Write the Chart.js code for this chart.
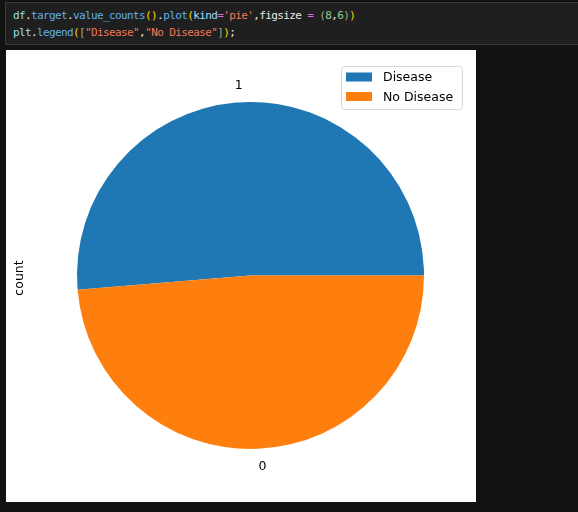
<!DOCTYPE html>
<html>
<head>
<meta charset="utf-8">
<script src="https://cdn.jsdelivr.net/npm/chart.js@4"></script>
<style>
  html, body { margin: 0; padding: 0; background: #121212; width: 578px; height: 512px; overflow: hidden; }
  #cell { position: absolute; left: 5px; top: 2px; width: 640px; height: 43px; background: #1f1f1f; border: 1px solid #3a3a3a; box-sizing: border-box; }
  .code { position: absolute; left: 7px; font-family: "DejaVu Sans Mono", "Liberation Mono", monospace; font-size: 11px; letter-spacing: -0.62px; white-space: pre; color: #d4d4d4; }
  .v { color: #9cdcfe; } .f { color: #5fb0f0; } .p { color: #ffd700; } .b { color: #9aaa8c; }
  .s { color: #f0785a; } .o { color: #e06cda; } .n { color: #8fd08f; } .w { color: #e8e8e8; }
  #plot { position: absolute; left: 6px; top: 50px; width: 470px; height: 452px; background: #ffffff; }
</style>
</head>
<body>
<div id="cell">
  <div class="code" style="top:6px;"><span class="v">df</span><span class="w">.</span><span class="f">target</span><span class="w">.</span><span class="f">value_counts</span><span class="p">()</span><span class="w">.</span><span class="f">plot</span><span class="p">(</span><span class="v">kind</span><span class="o">=</span><span class="s">'pie'</span><span class="w">,figsize </span><span class="o">=</span><span class="w"> </span><span class="b">(</span><span class="n">8</span><span class="w">,</span><span class="n">6</span><span class="b">)</span><span class="p">)</span></div>
  <div class="code" style="top:23px;"><span class="v">plt</span><span class="w">.</span><span class="f">legend</span><span class="p">(</span><span class="b">[</span><span class="s">"Disease"</span><span class="w">,</span><span class="s">"No Disease"</span><span class="b">]</span><span class="p">)</span><span class="w">;</span></div>
</div>
<div id="plot"><canvas id="c" width="470" height="452"></canvas></div>
<script>
const categories = ['1', '0'];
const counts = [526, 499];
const legendLabels = ['Disease', 'No Disease'];
const sliceColors = ['#1f77b4', '#ff7f0e'];
const yLabel = 'count';

const total = counts.reduce((a, b) => a + b, 0);
const FONT = '12.5px "DejaVu Sans", sans-serif';

const mplPlugin = {
  id: 'mpl',
  afterDraw(chart) {
    const ctx = chart.ctx;
    const meta = chart.getDatasetMeta(0);
    ctx.save();
    ctx.fillStyle = '#000000';
    ctx.font = FONT;
    ctx.textBaseline = 'middle';
    meta.data.forEach((arc, i) => {
      const p = arc.getProps(['x', 'y', 'startAngle', 'endAngle', 'outerRadius'], true);
      const mid = (p.startAngle + p.endAngle) / 2;
      const tx = p.x + Math.cos(mid) * p.outerRadius * 1.1;
      const ty = p.y + Math.sin(mid) * p.outerRadius * 1.1;
      ctx.textAlign = Math.cos(mid) < 0 ? 'right' : 'left';
      ctx.fillText(categories[i], tx, ty + 1);
    });
    ctx.save();
    ctx.translate(14, 228);
    ctx.rotate(-Math.PI / 2);
    ctx.textAlign = 'center';
    ctx.fillText(yLabel, 0, 0);
    ctx.restore();
    const lx = 335.5, ly = 16.5, lw = 121, lh = 43, r = 3;
    ctx.beginPath();
    ctx.moveTo(lx + r, ly);
    ctx.lineTo(lx + lw - r, ly);
    ctx.arcTo(lx + lw, ly, lx + lw, ly + r, r);
    ctx.lineTo(lx + lw, ly + lh - r);
    ctx.arcTo(lx + lw, ly + lh, lx + lw - r, ly + lh, r);
    ctx.lineTo(lx + r, ly + lh);
    ctx.arcTo(lx, ly + lh, lx, ly + lh - r, r);
    ctx.lineTo(lx, ly + r);
    ctx.arcTo(lx, ly, lx + r, ly, r);
    ctx.closePath();
    ctx.fillStyle = 'rgba(255,255,255,0.8)';
    ctx.fill();
    ctx.strokeStyle = '#d6d6d6';
    ctx.lineWidth = 1;
    ctx.stroke();
    legendLabels.forEach((lab, i) => {
      const cy = 27 + i * 19.5;
      ctx.fillStyle = sliceColors[i];
      ctx.fillRect(340, cy - 4.5, 26, 9);
      ctx.fillStyle = '#000000';
      ctx.textAlign = 'left';
      ctx.fillText(lab, 377, cy + 1);
    });
    ctx.restore();
  }
};

new Chart(document.getElementById('c'), {
  type: 'pie',
  data: {
    labels: categories,
    datasets: [{
      data: counts,
      backgroundColor: sliceColors,
      borderWidth: 0,
      hoverOffset: 0,
      offset: 0
    }]
  },
  options: {
    responsive: false,
    animation: false,
    events: [],
    rotation: 90 - 360 * counts[0] / total,
    layout: { padding: { left: 71, right: 52, top: 52, bottom: 53 } },
    plugins: {
      legend: { display: false },
      tooltip: { enabled: false },
      title: { display: false }
    }
  },
  plugins: [mplPlugin]
});
</script>
</body>
</html>
